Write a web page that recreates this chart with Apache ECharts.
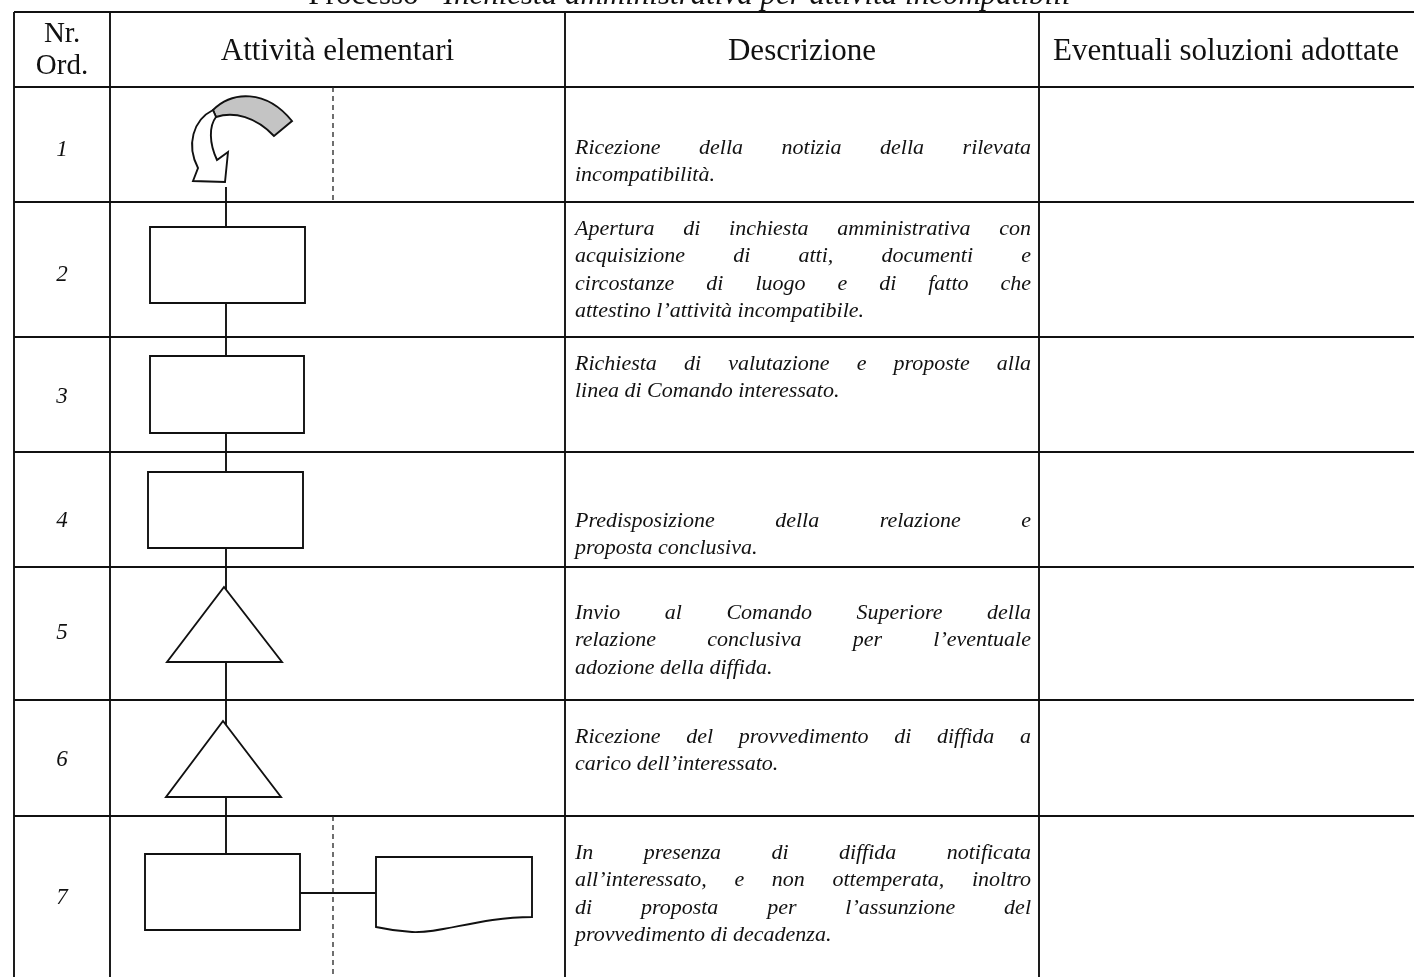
<!DOCTYPE html>
<html>
<head>
<meta charset="utf-8">
<script src="https://cdn.jsdelivr.net/npm/echarts@6/dist/echarts.min.js"></script>
<style>
html,body{margin:0;padding:0;background:#fff;}
#chart{width:1414px;height:977px;}
</style>
</head>
<body>
<div id="chart"></div>
<script>
// ---------------- DATA ----------------
const titlePlain = 'Processo ';
const titleItalic = '“Inchiesta amministrativa per attività incompatibili”';
const headerLabels = ['Nr.\nOrd.', 'Attività elementari', 'Descrizione', 'Eventuali soluzioni adottate'];
const stepNumbers = ['1', '2', '3', '4', '5', '6', '7'];
const stepShapes = ['start', 'process', 'process', 'process', 'transfer', 'transfer', 'process+document'];
const stepDescriptions = [
  ['Ricezione della notizia della rilevata', 'incompatibilità.'],
  ['Apertura di inchiesta amministrativa con', 'acquisizione di atti, documenti e', 'circostanze di luogo e di fatto che', 'attestino l’attività incompatibile.'],
  ['Richiesta di valutazione e proposte alla', 'linea di Comando interessato.'],
  ['Predisposizione della relazione e', 'proposta conclusiva.'],
  ['Invio al Comando Superiore della', 'relazione conclusiva per l’eventuale', 'adozione della diffida.'],
  ['Ricezione del provvedimento di diffida a', 'carico dell’interessato.'],
  ['In presenza di diffida notificata', 'all’interessato, e non ottemperata, inoltro', 'di proposta per l’assunzione del', 'provvedimento di decadenza.']
];
const stepSolutions = ['', '', '', '', '', '', ''];

// ---------------- LAYOUT (page units) ----------------
const PAGE_W = 1414, PAGE_H = 977;
const colX = [14, 110, 565, 1039, 1460];
const headerTop = 12, headerBottom = 87;
const rowBottoms = [202, 337, 452, 567, 700, 816, 1010];
const numberY = [150, 275, 397, 521, 633, 760, 898];
const firstLineY = [148, 229, 364, 521, 613, 737, 853];
const lineGap = 27.5;
const descLeft = 575, descRight = 1031;
const flowX = 226, dashX = 333;
const boxes = [null, [150, 227, 305, 303], [150, 356, 304, 433], [148, 472, 303, 548], null, null, [145, 854, 300, 930]];
const triangles = [null, null, null, null, [224, 587, 167, 282, 662], [223, 721, 166, 281, 797], null];
const FONT = '"Liberation Serif", "Times New Roman", serif';
const descFontSize = 22, headFontSize = 31, nrFontSize = 29, numFontSize = 23, titleFontSize = 31;

const measureCtx = document.createElement('canvas').getContext('2d');
function textW(str, size, italic) {
  measureCtx.font = (italic ? 'italic ' : '') + size + 'px ' + FONT;
  return measureCtx.measureText(str).width;
}

const chart = echarts.init(document.getElementById('chart'), null, { renderer: 'canvas' });

function lineEl(p1, p2, extra) {
  return Object.assign({
    type: 'line',
    shape: { x1: p1[0], y1: p1[1], x2: p2[0], y2: p2[1] },
    style: { stroke: '#111', lineWidth: 1.9 }
  }, extra || {});
}

function renderFrame(params, api) {
  const P = (x, y) => api.coord([x, y]);
  const ch = [];
  const bottom = rowBottoms[rowBottoms.length - 1];
  const hs = [headerTop, headerBottom].concat(rowBottoms.slice(0, -1));
  hs.forEach(y => ch.push(lineEl(P(colX[0], y), P(colX[4], y))));
  colX.slice(0, 4).forEach(x => ch.push(lineEl(P(x, headerTop), P(x, bottom))));
  // title (cut at top of page)
  const tp = P(698, 11);
  ch.push({
    type: 'text', x: tp[0], y: tp[1],
    style: {
      text: '{a|' + titlePlain + '}{b|' + titleItalic + '}',
      align: 'center', verticalAlign: 'bottom',
      rich: {
        a: { fontFamily: FONT, fontSize: titleFontSize, fill: '#111' },
        b: { fontFamily: FONT, fontSize: titleFontSize, fontStyle: 'italic', fill: '#111' }
      }
    }
  });
  // header labels
  const hy = (headerTop + headerBottom) / 2;
  for (let i = 0; i < 4; i++) {
    const cx = i === 3 ? 1226 : (colX[i] + colX[i + 1]) / 2;
    const p = P(cx, hy + (i === 0 ? 1 : 2));
    ch.push({
      type: 'text', x: p[0], y: p[1],
      style: {
        text: headerLabels[i], fontFamily: FONT, fontSize: i === 0 ? nrFontSize : headFontSize, fill: '#111',
        align: 'center', verticalAlign: 'middle', lineHeight: 32
      }
    });
  }
  // dashed guide line (rows 1 and 7)
  [[headerBottom, rowBottoms[0]], [rowBottoms[5], bottom]].forEach(seg => {
    ch.push(lineEl(P(dashX, seg[0]), P(dashX, seg[1]), { style: { stroke: '#222', lineWidth: 1.3, lineDash: [5, 4] } }));
  });
  // main flow line
  ch.push(lineEl(P(flowX, 187), P(flowX, 854)));
  return { type: 'group', children: ch };
}

function arrowPath(P) {
  const f = (x, y) => { const p = P(x, y); return p[0].toFixed(1) + ' ' + p[1].toFixed(1); };
  const band = 'M ' + f(213, 110) + ' C ' + f(232, 91) + ' ' + f(266, 89) + ' ' + f(292, 121) +
    ' L ' + f(274, 136) + ' C ' + f(256, 117) + ' ' + f(234, 111) + ' ' + f(216, 117) + ' Z';
  const stem = 'M ' + f(213, 110) + ' C ' + f(193, 120) + ' ' + f(186, 145) + ' ' + f(198, 168) +
    ' L ' + f(193, 181) + ' L ' + f(225, 182) + ' L ' + f(228, 152) + ' L ' + f(217, 160) +
    ' C ' + f(209, 143) + ' ' + f(209, 126) + ' ' + f(216, 117) + ' Z';
  return [band, stem];
}

function renderStep(params, api) {
  const i = api.value(0);
  const P = (x, y) => api.coord([x, y]);
  const ch = [];
  const shape = stepShapes[i];
  const stroke = { stroke: '#111', lineWidth: 1.9 };
  const np = P((colX[0] + colX[1]) / 2, numberY[i]);
  ch.push({ type: 'text', x: np[0], y: np[1], style: { text: stepNumbers[i], fontFamily: FONT, fontStyle: 'italic', fontSize: numFontSize, fill: '#111', align: 'center', verticalAlign: 'middle' } });
  if (shape === 'start') {
    const paths = arrowPath(P);
    ch.push({ type: 'path', shape: { pathData: paths[0] }, style: { fill: '#c4c4c4', stroke: '#111', lineWidth: 1.9 } });
    ch.push({ type: 'path', shape: { pathData: paths[1] }, style: { fill: '#fff', stroke: '#111', lineWidth: 1.9 } });
  }
  if (boxes[i]) {
    const b = boxes[i];
    const a = P(b[0], b[1]), c = P(b[2], b[3]);
    ch.push({ type: 'rect', shape: { x: a[0], y: a[1], width: c[0] - a[0], height: c[1] - a[1] }, style: Object.assign({ fill: '#fff' }, stroke) });
  }
  if (triangles[i]) {
    const t = triangles[i];
    ch.push({ type: 'polygon', shape: { points: [P(t[0], t[1]), P(t[3], t[4]), P(t[2], t[4])] }, style: Object.assign({ fill: '#fff' }, stroke) });
  }
  if (shape === 'process+document') {
    ch.push(lineEl(P(300, 893), P(376, 893)));
    const f = (x, y) => { const p = P(x, y); return p[0].toFixed(1) + ' ' + p[1].toFixed(1); };
    const d = 'M ' + f(376, 857) + ' L ' + f(532, 857) + ' L ' + f(532, 917) +
      ' C ' + f(480, 917) + ' ' + f(440, 934) + ' ' + f(412, 932) +
      ' C ' + f(395, 931) + ' ' + f(385, 929) + ' ' + f(376, 927) + ' Z';
    ch.push({ type: 'path', shape: { pathData: d }, style: Object.assign({ fill: '#fff' }, stroke) });
  }
  // description (justified)
  const lines = stepDescriptions[i];
  const width = descRight - descLeft;
  lines.forEach((ln, k) => {
    const y = firstLineY[i] + k * lineGap;
    const last = k === lines.length - 1;
    const words = ln.split(' ');
    if (last || words.length < 2) {
      const p = P(descLeft, y);
      ch.push({ type: 'text', x: p[0], y: p[1], style: { text: ln, fontFamily: FONT, fontStyle: 'italic', fontSize: descFontSize, fill: '#111', align: 'left', verticalAlign: 'middle' } });
    } else {
      const ws = words.map(w => textW(w, descFontSize, true));
      const total = ws.reduce((s, v) => s + v, 0);
      const gap = (width - total) / (words.length - 1);
      let x = descLeft;
      words.forEach((w, j) => {
        const p = P(x, y);
        ch.push({ type: 'text', x: p[0], y: p[1], style: { text: w, fontFamily: FONT, fontStyle: 'italic', fontSize: descFontSize, fill: '#111', align: 'left', verticalAlign: 'middle' } });
        x += ws[j] + gap;
      });
    }
  });
  return { type: 'group', children: ch };
}

const option = {
  animation: false,
  backgroundColor: '#fff',
  grid: { left: 0, right: 0, top: 0, bottom: 0 },
  xAxis: { type: 'value', min: 0, max: PAGE_W, show: false },
  yAxis: { type: 'value', min: 0, max: PAGE_H, inverse: true, show: false },
  series: [
    { type: 'custom', clip: false, silent: true, z: 1, data: [[0]], renderItem: renderFrame },
    { type: 'custom', clip: false, silent: true, z: 2, data: stepNumbers.map((n, i) => [i, stepSolutions[i]]), renderItem: renderStep }
  ]
};
chart.setOption(option);
</script>
</body>
</html>
